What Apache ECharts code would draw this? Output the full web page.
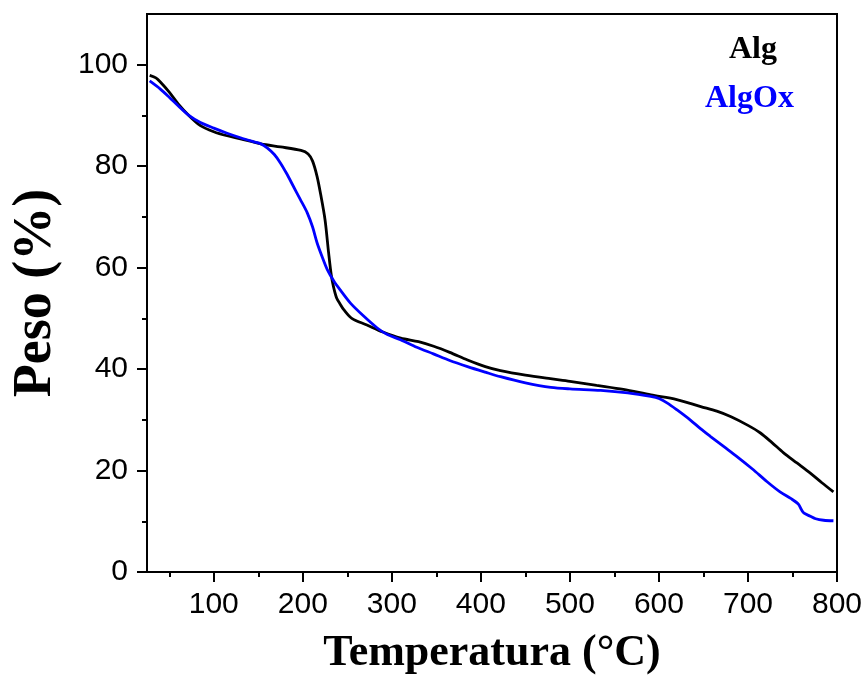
<!DOCTYPE html>
<html lang="es">
<head>
  <meta charset="UTF-8">
  <title>TGA Alg / AlgOx</title>
  <style>
    html, body { margin: 0; padding: 0; width: 100%; height: 100%; background: #fff; }
    #main { width: 867px; height: 681px; }
  </style>
</head>
<body>
  <div id="main"></div>
  <script src="https://cdn.jsdelivr.net/npm/echarts@6/dist/echarts.min.js"></script>
  <script type="text/javascript">
    // Alg (negro)
    var algTemp = [28, 35, 40, 50, 60, 72, 85, 100, 115, 130, 153, 175, 198, 206, 211, 216, 220, 225, 229, 232,
      234.5, 238, 242, 246, 255, 272, 290, 310, 330, 347, 365, 385, 405, 422, 450, 478, 500, 530, 560, 591,
      620, 647, 665, 681, 700, 714, 727, 740, 755, 770, 783, 796];
    var algPeso = [97.9, 97.4, 96.6, 94.6, 92.3, 90.0, 88.0, 86.8, 86.0, 85.4, 84.4, 83.8, 83.1, 82.4, 81.0, 78.0, 74.5, 69.4, 62.9, 58.5,
      56.2, 54.0, 52.8, 51.7, 50.0, 48.7, 47.3, 46.1, 45.4, 44.5, 43.3, 41.8, 40.5, 39.7, 38.8, 38.1, 37.6, 36.8, 36.0, 34.9,
      34.0, 32.6, 31.7, 30.6, 28.9, 27.4, 25.5, 23.5, 21.5, 19.5, 17.6, 15.8];

    // AlgOx (azul)
    var oxTemp = [28, 40, 50, 60, 72, 85, 100, 115, 130, 145, 153, 160, 168, 175, 182, 189.5, 197, 205, 211, 216,
      222, 227.5, 235, 242, 253.5, 268, 283.6, 295, 309.7, 328, 346.7, 365, 385, 405, 422, 450, 478.6, 500, 534.7, 565,
      590.8, 600, 609.5, 620, 635, 647, 658, 673, 688, 705, 721.5, 736, 748, 756.5, 760, 763, 770, 776, 785, 796];
    var oxPeso = [96.8, 95.2, 93.6, 91.9, 90.0, 88.6, 87.5, 86.5, 85.6, 84.8, 84.4, 83.6, 82.3, 80.6, 78.5, 76.0, 73.5, 70.8, 68.0, 64.9,
      62.0, 59.6, 57.3, 55.6, 53.0, 50.5, 48.1, 46.8, 45.8, 44.3, 43.0, 41.7, 40.5, 39.4, 38.5, 37.3, 36.4, 36.1, 35.8, 35.3,
      34.6, 34.2, 33.3, 32.0, 30.0, 28.2, 26.7, 24.7, 22.7, 20.3, 17.8, 15.8, 14.5, 13.4, 12.3, 11.6, 11.0, 10.5, 10.2, 10.1];

    var xTicks = [100, 200, 300, 400, 500, 600, 700, 800];
    var xMinorTicks = [50, 150, 250, 350, 450, 550, 650, 750];
    var yTicks = [0, 20, 40, 60, 80, 100];
    var yMinorTicks = [10, 30, 50, 70, 90];

    function pares(xs, ys) {
      return xs.map(function (x, i) { return [x, ys[i]]; });
    }

    var sans = 'Liberation Sans, Arial, sans-serif';
    var serif = 'Liberation Serif, Times New Roman, serif';

    var myChart = echarts.init(document.getElementById('main'));

    var option = {
      animation: false,
      backgroundColor: '#fff',
      grid: {
        left: 147, right: 30, top: 14, bottom: 109,
        show: true, borderColor: '#000', borderWidth: 2
      },
      legend: [{
        data: [{ name: 'Alg', textStyle: { color: '#000' } }],
        icon: 'none', itemWidth: 0, padding: 0, selectedMode: false,
        left: 724, top: 34,
        textStyle: { fontFamily: serif, fontWeight: 'bold', fontSize: 32 }
      }, {
        data: [{ name: 'AlgOx', textStyle: { color: '#0000ff' } }],
        icon: 'none', itemWidth: 0, padding: 0, selectedMode: false,
        left: 700, top: 83,
        textStyle: { fontFamily: serif, fontWeight: 'bold', fontSize: 32 }
      }],
      xAxis: [{
        type: 'value', min: 25, max: 800,
        name: 'Temperatura (°C)', nameLocation: 'middle', nameGap: 60,
        nameTextStyle: { fontFamily: serif, fontWeight: 'bold', fontSize: 44, color: '#000' },
        axisLine: { lineStyle: { color: '#000', width: 2 } },
        axisTick: { customValues: xTicks, length: 10, lineStyle: { color: '#000', width: 2 } },
        axisLabel: { customValues: xTicks, margin: 18, fontFamily: sans, fontSize: 30, color: '#000' },
        splitLine: { show: false }
      }, {
        type: 'value', min: 25, max: 800, position: 'bottom', gridIndex: 0,
        axisLine: { show: false },
        axisTick: { customValues: xMinorTicks, length: 5, lineStyle: { color: '#000', width: 2 } },
        axisLabel: { show: false },
        splitLine: { show: false }
      }],
      yAxis: [{
        type: 'value', min: 0, max: 110,
        name: 'Peso (%)', nameLocation: 'middle', nameGap: 84,
        nameTextStyle: { fontFamily: serif, fontWeight: 'bold', fontSize: 54, color: '#000' },
        axisLine: { show: true, lineStyle: { color: '#000', width: 2 } },
        axisTick: { show: true, customValues: yTicks, length: 10, lineStyle: { color: '#000', width: 2 } },
        axisLabel: { customValues: yTicks, margin: 19, fontFamily: sans, fontSize: 30, color: '#000' },
        splitLine: { show: false }
      }, {
        type: 'value', min: 0, max: 110, position: 'left', gridIndex: 0,
        axisLine: { show: false },
        axisTick: { show: true, customValues: yMinorTicks, length: 5, lineStyle: { color: '#000', width: 2 } },
        axisLabel: { show: false },
        splitLine: { show: false }
      }],
      series: [{
        name: 'Alg', type: 'line', showSymbol: false, symbol: 'none',
        xAxisIndex: 0, yAxisIndex: 0,
        smooth: 0.3,
        lineStyle: { color: '#000', width: 2.8 },
        itemStyle: { color: '#000' },
        data: pares(algTemp, algPeso)
      }, {
        name: 'AlgOx', type: 'line', showSymbol: false, symbol: 'none',
        xAxisIndex: 0, yAxisIndex: 0,
        smooth: 0.3,
        lineStyle: { color: '#0000ff', width: 2.8 },
        itemStyle: { color: '#0000ff' },
        data: pares(oxTemp, oxPeso)
      }]
    };

    myChart.setOption(option);
  </script>
</body>
</html>
